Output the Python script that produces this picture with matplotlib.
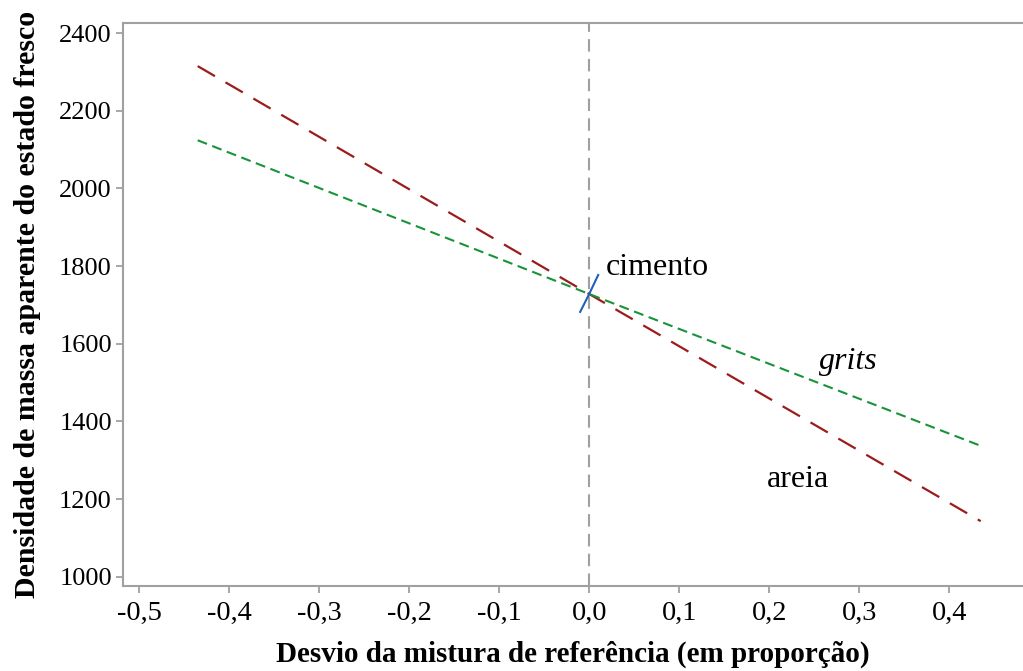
import matplotlib
matplotlib.use("Agg")
import matplotlib.pyplot as plt

# Data
areia_x = [-0.435, 0.0, 0.435]
areia_y = [2315, 1728, 1143]
grits_x = [-0.435, 0.0, 0.435]
grits_y = [2124, 1728, 1337]
cimento_x = [-0.010, 0.0, 0.010]
cimento_y = [1682, 1728, 1777]

xticks = [-0.5, -0.4, -0.3, -0.2, -0.1, 0.0, 0.1, 0.2, 0.3, 0.4]
xtick_labels = ["-0,5", "-0,4", "-0,3", "-0,2", "-0,1", "0,0", "0,1", "0,2", "0,3", "0,4"]
yticks = [1000, 1200, 1400, 1600, 1800, 2000, 2200, 2400]

plt.rcParams['font.family'] = ['Liberation Serif', 'DejaVu Serif']

fig = plt.figure(figsize=(10.23, 6.71), dpi=100)
ax = fig.add_axes([0.1202, 0.1267, 0.8798, 0.839])

ax.axvline(0, color="#a0a0a0", lw=1.5, dashes=(6, 3.5), zorder=1)
ax.plot(areia_x, areia_y, color="#9b1c1c", lw=1.6, dashes=(9, 5.5), zorder=3)
ax.plot(grits_x, grits_y, color="#17943a", lw=1.5, dashes=(4.8, 2.7), zorder=3)
ax.plot(cimento_x, cimento_y, color="#1f5fbf", lw=1.5, zorder=4)

ax.text(0.018, 1797, "cimento", fontsize=23, ha="left", va="center")
ax.text(0.288, 1555, "grits", fontsize=23, ha="center", va="center", style="italic")
ax.text(0.232, 1249, "areia", fontsize=23, ha="center", va="center")

ax.set_xlim(-0.518, 0.482)
ax.set_ylim(976, 2426)
ax.set_xticks(xticks)
ax.set_xticklabels(xtick_labels)
ax.set_yticks(yticks)

ax.spines["right"].set_visible(False)
for s in ["left", "bottom", "top"]:
    ax.spines[s].set_color("#a0a0a0")
    ax.spines[s].set_linewidth(1.5)

ax.tick_params(axis="both", direction="out", length=5, width=1.3, color="#a0a0a0",
               labelcolor="black")
ax.tick_params(axis="x", pad=6, labelsize=20.5)
ax.tick_params(axis="y", pad=3, labelsize=19)

ax.set_xlabel("Desvio da mistura de referência (em proporção)", fontsize=21,
              fontweight="bold", labelpad=10.5)
ax.set_ylabel("Densidade de massa aparente do estado fresco", fontsize=21.5,
              fontweight="bold", labelpad=13)

fig.savefig("out.png", dpi=100)
